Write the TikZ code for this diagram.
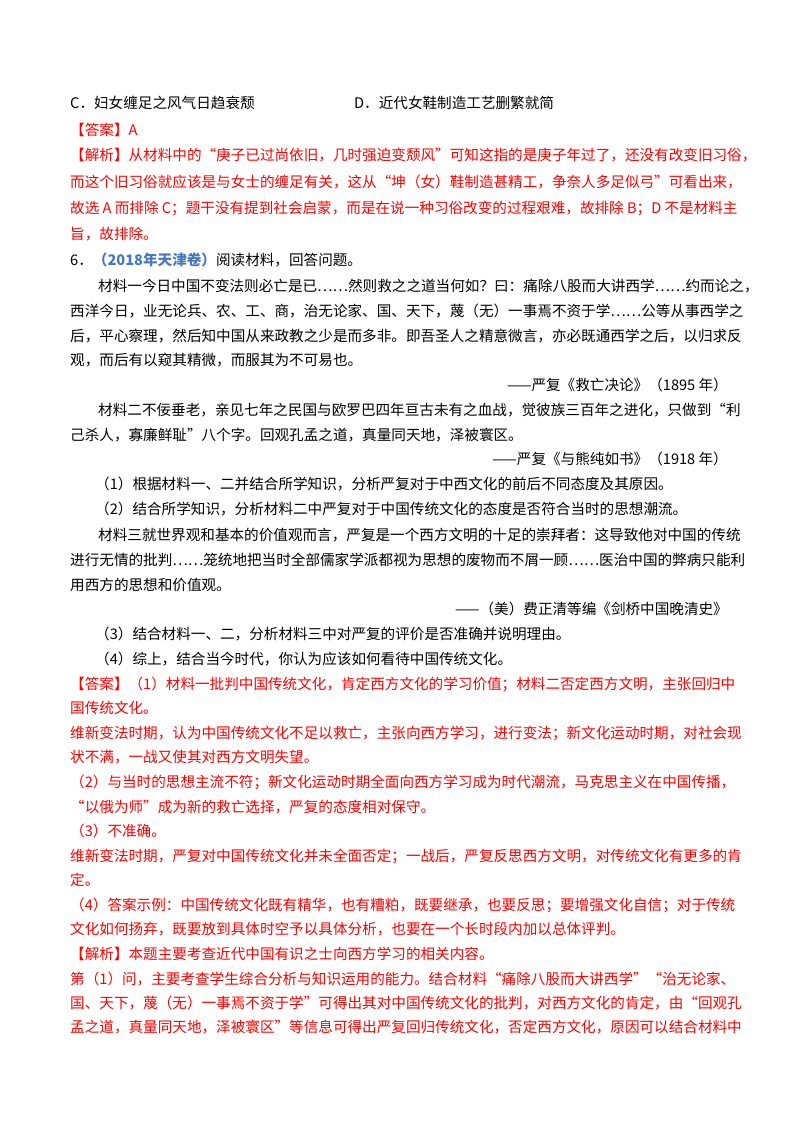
\documentclass[tikz,border=0pt]{standalone}
\usepackage{fontspec}
\setmainfont{Noto Sans CJK SC}
\definecolor{ans}{RGB}{255,0,0}
\definecolor{src}{RGB}{70,120,190}
\begin{document}
\begin{tikzpicture}[x=1pt,y=-1pt,
  t/.style={anchor=base west,inner sep=0,font=\fontsize{14.6}{15}\selectfont},
  r/.style={t,text=ans},
  e/.style={anchor=base east,inner sep=0,font=\fontsize{14.6}{15}\selectfont}]
\useasboundingbox (0,0) rectangle (800,1132);
\node[t] (c) at (70,108) {C．妇女缠足之风气日趋衰颓};
\node[t] (d) at (354,108) {D．近代女鞋制造工艺删繁就简};
\node[r] (a1) at (70,135) {【答案】A};
\node[r] (j1) at (70,160) {【解析】从材料中的“庚子已过尚依旧，几时强迫变颓风”可知这指的是庚子年过了，还没有改变旧习俗，};
\node[r] (j2) at (70,187) {而这个旧习俗就应该是与女士的缠足有关，这从“坤（女）鞋制造甚精工，争奈人多足似弓”可看出来，};
\node[r] (j3) at (70,213) {故选 A 而排除 C；题干没有提到社会启蒙，而是在说一种习俗改变的过程艰难，故排除 B；D 不是材料主};
\node[r] (j4) at (70,239) {旨，故排除。};
\node[t] (q6) at (70,265) {6．\textcolor{src}{\textbf{（2018年天津卷）}}阅读材料，回答问题。};
\node[t] (m1) at (98,291) {材料一今日中国不变法则必亡是已……然则救之之道当何如？曰：痛除八股而大讲西学……约而论之，};
\node[t] (m2) at (70,316) {西洋今日，业无论兵、农、工、商，治无论家、国、天下，蔑（无）一事焉不资于学……公等从事西学之};
\node[t] (m3) at (70,341) {后，平心察理，然后知中国从来政教之少是而多非。即吾圣人之精意微言，亦必既通西学之后，以归求反};
\node[t] (m4) at (70,365) {观，而后有以窥其精微，而服其为不可易也。};
\node[e] (s1) at (728,390) {——严复《救亡决论》（1895 年）};
\node[t] (n1) at (98,415) {材料二不佞垂老，亲见七年之民国与欧罗巴四年亘古未有之血战，觉彼族三百年之进化，只做到“利};
\node[t] (n2) at (70,440) {己杀人，寡廉鲜耻”八个字。回观孔孟之道，真量同天地，泽被寰区。};
\node[e] (s2) at (728,464) {——严复《与熊纯如书》（1918 年）};
\node[t] (p1) at (95,489) {（1）根据材料一、二并结合所学知识，分析严复对于中西文化的前后不同态度及其原因。};
\node[t] (p2) at (95,514) {（2）结合所学知识，分析材料二中严复对于中国传统文化的态度是否符合当时的思想潮流。};
\node[t] (k1) at (98,540) {材料三就世界观和基本的价值观而言，严复是一个西方文明的十足的崇拜者：这导致他对中国的传统};
\node[t] (k2) at (70,565) {进行无情的批判……笼统地把当时全部儒家学派都视为思想的废物而不屑一顾……医治中国的弊病只能利};
\node[t] (k3) at (70,590) {用西方的思想和价值观。};
\node[e] (s3) at (728,614) {——（美）费正清等编《剑桥中国晚清史》};
\node[t] (p3) at (95,639) {（3）结合材料一、二，分析材料三中对严复的评价是否准确并说明理由。};
\node[t] (p4) at (95,664) {（4）综上，结合当今时代，你认为应该如何看待中国传统文化。};
\node[r] (b1) at (70,689) {【答案】（1）材料一批判中国传统文化，肯定西方文化的学习价值；材料二否定西方文明，主张回归中};
\node[r] (b2) at (70,713) {国传统文化。};
\node[r] (b3) at (70,738) {维新变法时期，认为中国传统文化不足以救亡，主张向西方学习，进行变法；新文化运动时期，对社会现};
\node[r] (b4) at (70,762) {状不满，一战又使其对西方文明失望。};
\node[r] (b5) at (70,787) {（2）与当时的思想主流不符；新文化运动时期全面向西方学习成为时代潮流，马克思主义在中国传播，};
\node[r] (b6) at (70,812) {“以俄为师”成为新的救亡选择，严复的态度相对保守。};
\node[r] (b7) at (70,836) {（3）不准确。};
\node[r] (b8) at (70,861) {维新变法时期，严复对中国传统文化并未全面否定；一战后，严复反思西方文明，对传统文化有更多的肯};
\node[r] (b9) at (70,885) {定。};
\node[r] (b10) at (70,910) {（4）答案示例：中国传统文化既有精华，也有糟粕，既要继承，也要反思；要增强文化自信；对于传统};
\node[r] (b11) at (70,934) {文化如何扬弃，既要放到具体时空予以具体分析，也要在一个长时段内加以总体评判。};
\node[r] (c1) at (70,959) {【解析】本题主要考查近代中国有识之士向西方学习的相关内容。};
\node[r] (c2) at (70,984) {第（1）问，主要考查学生综合分析与知识运用的能力。结合材料“痛除八股而大讲西学”“治无论家、};
\node[r] (c3) at (70,1008) {国、天下，蔑（无）一事焉不资于学”可得出其对中国传统文化的批判，对西方文化的肯定，由“回观孔};
\node[r] (c4) at (70,1032) {孟之道，真量同天地，泽被寰区”等信息可得出严复回归传统文化，否定西方文化，原因可以结合材料中};
\end{tikzpicture}
\end{document}
